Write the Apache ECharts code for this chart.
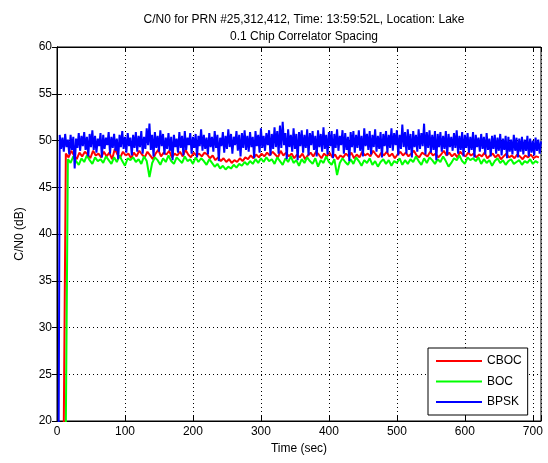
<!DOCTYPE html>
<html>
<head>
<meta charset="utf-8">
<script src="https://cdn.jsdelivr.net/npm/echarts@6/dist/echarts.min.js"></script>
<style>html,body{margin:0;padding:0;background:#fff}#c{width:548px;height:463px}</style>
</head>
<body>
<div id="c"></div>
<script>
const titleLines = ['C/N0 for PRN #25,312,412, Time: 13:59:52L, Location: Lake', '0.1 Chip Correlator Spacing'];
const seriesNames = ['CBOC', 'BOC', 'BPSK'];
const xTicks = [0, 100, 200, 300, 400, 500, 600, 700];
const yTicks = [20, 25, 30, 35, 40, 45, 50, 55, 60];
const cbocStep = 4, bocStep = 4, bpskStep = 2;
const cbocStart = 9;
const bocStart = 12;
const bpskStart = 2;

const bpskValues = [
10,50.6,49.1,50.3,48.8,50.7,49.3,50.1,48.5,50.6,49.0,50.4,47.0,50.2,49.2,50.8,48.9,50.5,49.4,50.9,
49.0,50.4,48.3,50.7,49.3,51.1,49.0,50.5,48.7,50.2,49.4,50.8,48.2,50.6,49.1,50.3,49.5,50.9,48.6,50.4,
49.2,50.7,48.9,50.2,48.0,50.6,49.3,51.0,49.1,50.4,48.7,50.8,49.4,50.3,48.4,50.6,49.2,50.9,48.8,50.5,
49.3,51.0,48.6,50.4,49.1,51.3,49.5,51.8,49.0,50.6,48.3,50.9,49.2,50.5,48.8,51.1,49.4,50.7,48.5,50.3,
49.1,50.8,48.9,50.4,47.9,50.6,49.3,50.2,48.7,50.9,49.2,50.5,48.4,51.0,49.0,50.3,49.5,50.8,48.6,50.4,
49.2,50.7,48.2,50.5,49.4,51.2,48.9,50.6,49.1,50.3,48.5,50.8,49.3,50.4,48.8,51.0,49.2,50.6,47.8,50.3,
49.4,50.9,48.7,50.5,49.1,51.2,49.3,50.7,48.6,50.4,49.5,51.0,48.9,50.6,48.3,50.8,49.2,51.1,49.0,50.5,
48.8,50.9,49.3,50.4,48.1,51.0,49.4,50.6,48.7,51.3,49.2,50.5,48.9,50.8,49.5,51.1,48.4,50.7,49.1,51.4,
49.3,51.0,48.6,51.6,49.2,52.0,49.5,50.8,48.0,51.2,49.3,50.6,48.8,51.3,49.1,50.7,47.9,50.9,49.4,51.1,
48.7,50.6,49.2,51.2,48.4,50.8,49.5,51.0,49.0,50.5,48.3,51.1,49.3,50.7,48.8,51.4,49.1,50.6,48.5,50.9,
49.4,51.0,48.1,50.7,49.2,51.2,48.9,50.5,49.5,51.1,48.6,50.8,49.0,50.4,47.8,50.9,49.3,51.0,48.7,50.6,
49.2,51.1,48.9,50.5,48.3,51.3,49.4,50.7,49.0,51.0,48.5,50.6,49.3,51.2,48.8,50.5,49.1,50.9,48.2,50.7,
49.4,51.0,48.7,50.6,49.2,51.3,48.9,50.8,49.5,51.1,48.4,50.6,49.1,51.7,49.3,50.9,48.6,51.2,49.0,50.7,
48.2,51.0,49.3,50.6,48.8,51.2,49.1,50.8,49.4,51.8,48.5,50.9,49.2,51.1,48.7,50.6,49.0,51.0,47.9,50.7,
49.3,50.9,48.8,50.5,49.1,51.0,48.4,50.7,49.3,50.4,48.9,50.8,49.2,51.1,48.6,50.5,49.0,50.9,48.3,50.6,
49.2,50.8,48.7,50.4,49.0,50.9,48.2,50.6,49.3,50.3,48.8,50.7,49.1,50.4,48.5,50.8,49.0,50.2,48.3,50.5,
49.1,50.6,48.6,50.3,48.9,50.7,48.4,50.2,49.0,50.5,48.1,50.4,48.8,50.1,48.5,50.6,48.9,50.3,48.2,50.2,
48.8,50.4,48.5,50.1,48.9,50.5,48.3,50.2,48.7,50.0,48.4,50.3,48.9,50.1,48.6,49.9];

const cbocValues = [10,
48.6,48.2,48.9,48.4,48.0,48.7,48.3,48.8,48.5,48.1,48.9,48.4,48.6,48.2,48.8,48.3,48.7,48.0,49.1,48.5,48.2,48.8,48.4,48.6,48.1,
48.7,48.3,48.9,48.5,48.2,48.8,48.4,48.0,48.6,49.0,48.3,48.7,48.5,48.9,48.2,48.6,48.4,48.8,48.3,49.0,48.5,48.2,48.7,48.4,48.6,
48.3,48.7,48.5,48.1,48.4,47.9,48.2,47.8,48.1,47.7,48.0,47.6,47.9,47.7,48.1,47.8,48.2,48.0,48.4,48.1,48.5,48.2,48.6,48.3,48.7,
48.4,48.8,48.5,48.2,48.9,48.4,48.7,48.3,48.6,48.1,48.5,48.2,48.6,48.0,48.4,48.7,48.3,48.8,48.5,48.1,48.6,48.3,48.7,48.2,48.5,
48.0,48.4,48.2,48.6,48.3,48.7,48.1,48.5,48.2,48.8,48.4,48.6,48.3,48.9,48.5,48.2,48.7,48.4,48.8,48.3,48.6,48.1,48.5,48.8,48.4,
48.7,48.3,48.6,48.9,48.4,48.2,48.7,48.5,48.3,48.8,48.4,48.6,48.2,48.5,48.9,48.4,48.7,48.3,48.6,48.2,48.8,48.5,48.3,48.7,48.4,
48.6,48.2,48.5,48.3,48.7,48.1,48.4,48.6,48.2,48.5,48.0,48.3,48.6,48.2,48.4,48.1,48.5,48.3,48.0,48.4,48.2,48.5,48.1,48.3,48.2];

const bocValues = [10,
48.0,47.6,48.3,47.8,47.4,48.1,47.7,48.4,47.9,47.5,48.2,47.8,48.0,47.6,48.3,47.9,47.5,48.2,47.7,48.4,47.8,47.3,48.1,47.9,48.2,
47.7,48.0,47.5,48.3,47.8,46.1,47.6,48.2,47.9,47.4,48.1,47.7,48.4,47.8,47.5,48.2,47.9,47.6,48.3,47.8,48.0,47.5,48.2,47.7,48.1,
47.8,47.4,48.0,47.6,47.2,47.5,47.0,47.3,46.9,47.2,47.0,47.4,47.1,47.5,47.3,47.7,47.4,47.8,47.5,48.0,47.6,48.1,47.7,48.2,47.8,
48.0,47.5,48.2,47.8,47.4,48.1,47.7,48.3,47.6,47.9,47.3,48.0,47.6,48.2,47.8,47.5,48.1,47.2,47.9,47.6,48.3,47.7,47.4,48.0,46.3,
47.6,48.1,47.7,47.4,48.0,47.5,48.2,47.8,47.3,47.9,47.6,48.1,47.4,47.8,47.2,47.7,48.0,47.5,47.9,47.3,47.8,47.6,48.1,47.4,47.9,
47.5,48.0,47.7,48.3,47.8,47.4,48.1,47.6,48.2,47.9,47.5,48.0,47.7,48.3,47.8,47.2,47.6,48.1,47.9,48.4,47.8,47.5,48.2,47.9,48.1,
47.8,48.2,47.5,48.0,47.6,47.9,47.3,47.8,48.1,47.6,47.9,47.4,47.8,48.0,47.5,47.7,47.9,47.4,47.8,47.6,48.0,47.5,47.8,47.6];

function toPairs(start, step, vals) {
  return vals.map((v, i) => [start + i * step, v]);
}

const font = 'Liberation Sans, Arial, Helvetica, sans-serif';
const chart = echarts.init(document.getElementById('c'), null, {renderer: 'canvas'});

const xBase = {
  type: 'value', min: 0, max: 712, interval: 100,
  axisLine: {show: true, lineStyle: {color: '#000', width: 1}},
  axisTick: {show: true, inside: true, length: 5, lineStyle: {color: '#000'}},
  splitLine: {show: false}
};
const yBase = {
  type: 'value', min: 20, max: 60, interval: 5,
  axisLine: {show: true, lineStyle: {color: '#000', width: 1}},
  axisTick: {show: true, inside: true, length: 5, lineStyle: {color: '#000'}},
  splitLine: {show: false}
};

chart.setOption({
  animation: false,
  backgroundColor: '#fff',
  title: {
    text: titleLines.join('\n'),
    left: 299, top: 6, textAlign: 'center',
    textStyle: {fontFamily: font, fontSize: 12, fontWeight: 'normal', color: '#000', lineHeight: 17}
  },
  grid: {left: 57, top: 47, right: 7, bottom: 42, show: true, borderColor: '#000', borderWidth: 1, backgroundColor: '#fff'},
  legend: {
    data: seriesNames, orient: 'vertical', left: 428, top: 348,
    padding: [6, 6, 6, 8], itemWidth: 46, itemHeight: 14, itemGap: 6.5,
    icon: 'path://M0,0M0,6L46,6L46,8L0,8ZM46,14',
    backgroundColor: '#fff', borderColor: '#000', borderWidth: 1, borderRadius: 0,
    textStyle: {fontFamily: font, fontSize: 12, color: '#000'}
  },
  xAxis: [
    Object.assign({}, xBase, {
      position: 'bottom',
      name: 'Time (sec)', nameLocation: 'middle', nameGap: 22,
      nameTextStyle: {fontFamily: font, fontSize: 12, color: '#000'},
      axisLabel: {show: true, margin: 5, fontFamily: font, fontSize: 12, color: '#000',
        formatter: v => (xTicks.indexOf(v) >= 0 ? String(v) : '')},
      splitLine: {show: true, lineStyle: {color: '#000', type: [1, 3], width: 1}}
    }),
    Object.assign({}, xBase, {position: 'top', axisLabel: {show: false}})
  ],
  yAxis: [
    Object.assign({}, yBase, {
      position: 'left',
      name: 'C/N0 (dB)', nameLocation: 'middle', nameGap: 31,
      nameTextStyle: {fontFamily: font, fontSize: 12, color: '#000'},
      axisLabel: {show: true, margin: 5, fontFamily: font, fontSize: 12, color: '#000',
        formatter: v => (yTicks.indexOf(v) >= 0 ? String(v) : '')},
      splitLine: {show: true, lineStyle: {color: '#000', type: [1, 3], width: 1}}
    }),
    Object.assign({}, yBase, {position: 'right', axisLabel: {show: false}})
  ],
  series: [
    {name: seriesNames[0], type: 'line', data: toPairs(cbocStart, cbocStep, cbocValues), symbol: 'none', showSymbol: false,
      lineStyle: {color: '#ff0000', width: 2}, itemStyle: {color: '#ff0000'}, clip: true},
    {name: seriesNames[1], type: 'line', data: toPairs(bocStart, bocStep, bocValues), symbol: 'none', showSymbol: false,
      lineStyle: {color: '#00ff00', width: 2}, itemStyle: {color: '#00ff00'}, clip: true},
    {name: seriesNames[2], type: 'line', data: toPairs(bpskStart, bpskStep, bpskValues), symbol: 'none', showSymbol: false,
      lineStyle: {color: '#0000ff', width: 2}, itemStyle: {color: '#0000ff'}, clip: true}
  ]
});
</script>
</body>
</html>
